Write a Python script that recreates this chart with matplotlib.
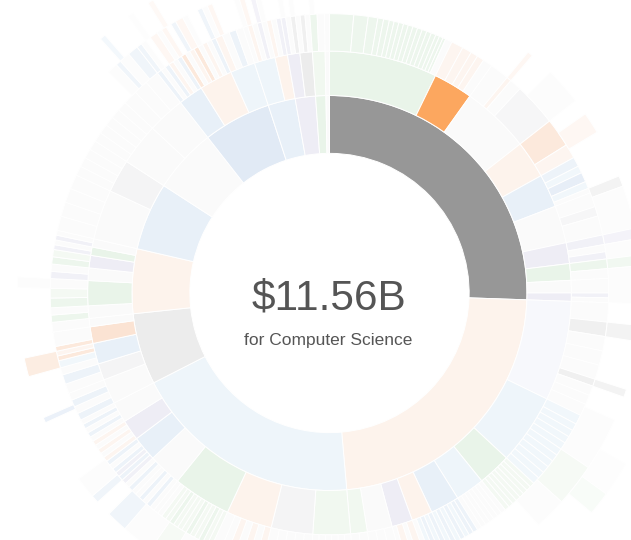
import matplotlib
matplotlib.use("Agg")
import matplotlib.pyplot as plt
from matplotlib.patches import Wedge
from matplotlib.colors import to_rgb

W, H = 631, 540
CX, CY = 329.5, 293.0
R2_STEP = 19500.0  # sqrt radial scale: each ring adds the same r^2

total_label = "$11.56B"
field_label = "for Computer Science"

# faded palette (hover state: everything off-path is washed out)
shade = {
    'H': '#979797', 'X': '#fca75f',
    'b': '#e8f0f8', 'B': '#e1eaf5', 'c': '#eef5fa', 'v': '#f7f8fc',
    'o': '#fdf3ec', 'O': '#fbe3d3', 'g': '#e9f4e9', 'G': '#f1f8f0',
    'p': '#eeedf5', 'k': '#ececec', 'l': '#f4f4f5', 'w': '#fafafa',
}
# outer rings fade a bit more towards white
level_fade = {1: 1.0, 2: 1.0, 3: 0.8, 4: 0.65, 5: 0.5}

# level 1 ($B)
l1_values = [11.56, 10.43, 8.54, 2.64, 2.39, 2.51, 2.39, 2.51, 1.01, 0.75,
             0.38, 0.13]
l1_codes = ['H', 'o', 'c', 'k', 'o', 'b', 'w', 'B', 'b', 'p', 'g', 'w']

# level 2: relative shares inside each level-1 field
l2_parts = [
    [(26, 'g'), (9.5, 'X'), (16.5, 'w'), (9, 'o'), (8, 'b'), (9, 'w'),
     (5, 'p'), (4, 'g'), (3, 'w'), (2, 'p')],
    [(24, 'v'), (17, 'c'), (8, 'g'), (7, 'c'), (7, 'b'), (5, 'o'), (5, 'p'),
     (6, 'w'), (4, 'G')],
    [(9, 'G'), (10, 'l'), (11, 'o'), (14, 'g'), (8, 'w'), (6, 'b'), (5, 'p'),
     (5, 'w')],
    [(6, 'w'), (4, 'l'), (5, 'b'), (4, 'O'), (2, 'w')],
    [(3, 'w'), (6, 'g'), (3, 'w'), (3, 'p'), (2, 'g'), (2, 'w')],
    [(12, 'w'), (8, 'l')],
    [(10, 'w'), (9, 'w')],
    [(6, 'b'), (8, 'o'), (6, 'c')],
    [(5, 'c'), (3, 'o')],
    [(3, 'p'), (3, 'k')],
    [(3, 'G')],
    [(1, 'w')],
]

# level 3: shares inside each level-2 node
l3_parts = [
    [[(5, 'g'), (3, 'g'), (2, 'g'), (1.2, 'g'), (1.2, 'g'), (1, 'g'),
      (1, 'g'), (1, 'g'), (1, 'g'), (1, 'g'), (1, 'g'), (1, 'g'), (1, 'g'),
      (1, 'g'), (1, 'g'), (0.8, 'g'), (0.8, 'g'), (0.6, 'g'), (1.4, 'w')],
     [(2.5, 'o'), (2, 'o'), (1.5, 'o'), (1.5, 'o'), (2, 'w')],
     [(4, 'w'), (1, 'o'), (2.5, 'w'), (9, 'l')],
     [(6, 'O'), (3, 'o')],
     [(2, 'b'), (1.5, 'c'), (2, 'B'), (1.5, 'c'), (1, 'w')],
     [(3, 'w'), (2, 'l'), (4, 'w')],
     [(2, 'p'), (1.5, 'w'), (1.5, 'p')],
     [(2, 'g'), (2, 'w')],
     [(3, 'w')],
     [(1, 'p'), (1, 'w')]],
    [[(4, 'w'), (3, 'k'), (3, 'w'), (3, 'w'), (3, 'w'), (1.5, 'k'), (2, 'w'),
      (2, 'w'), (2.5, 'w')],
     [(2, 'c'), (1.5, 'c'), (1.5, 'c'), (1.5, 'c'), (1.5, 'c'), (1.5, 'c'),
      (1.5, 'c'), (1.5, 'c'), (1.5, 'c'), (1.5, 'c'), (1.5, 'c')],
     [(1, 'G'), (1, 'G'), (1, 'G'), (1, 'G'), (1, 'G'), (1, 'G'), (1, 'G'),
      (1, 'G')],
     [(1, 'w'), (1, 'w'), (1, 'w'), (1, 'w'), (1, 'w'), (1, 'w'), (1, 'w')],
     [(1, 'b'), (1, 'b'), (1, 'c'), (1, 'b'), (1, 'c'), (1, 'b'), (1, 'c')],
     [(1, 'b'), (1, 'c'), (1, 'b'), (1, 'c'), (1, 'w')],
     [(1.5, 'o'), (1, 'w'), (1.5, 'o'), (1, 'w')],
     [(2, 'w'), (2, 'w'), (2, 'w')],
     [(2, 'w'), (2, 'w')]],
    [[(1.5, 'w'), (1.5, 'w'), (1.5, 'w'), (1.5, 'w'), (1.5, 'w'), (1.5, 'w')],
     [(2, 'w'), (2, 'w'), (2, 'w'), (2, 'w'), (2, 'w')],
     [(1.5, 'o'), (1.5, 'w'), (1.5, 'o'), (1.5, 'w'), (1.5, 'o'), (1.5, 'w'),
      (2, 'w')],
     [(1, 'G'), (1, 'G'), (1, 'g'), (1, 'G'), (1, 'G'), (1, 'g'), (1, 'G'),
      (1, 'G'), (1, 'G'), (1, 'g'), (1, 'G'), (1, 'G'), (1, 'w'), (1, 'w')],
     [(1, 'w'), (1, 'b'), (1, 'w'), (1, 'b'), (1, 'w'), (1, 'w'), (1, 'b'),
      (1, 'w')],
     [(1, 'p'), (1, 'b'), (1, 'p'), (1, 'b'), (1, 'w'), (1, 'b')],
     [(1, 'o'), (1, 'w'), (1, 'o'), (1, 'w'), (1, 'o')],
     [(1, 'w'), (1, 'b'), (1, 'w'), (1, 'b'), (1, 'w')]],
    [[(1.5, 'b'), (1.5, 'w'), (1.5, 'b'), (1.5, 'w')],
     [(2, 'w'), (2, 'b')],
     [(1.5, 'w'), (1.5, 'c'), (1, 'O'), (1, 'o')],
     [(1, 'O'), (3, 'w')],
     [(2, 'w')]],
    [[(1.5, 'g'), (1.5, 'w')],
     [(2, 'g'), (2, 'G'), (2, 'w')],
     [(1.5, 'p'), (1.5, 'w')],
     [(1.5, 'g'), (1.5, 'G')],
     [(1, 'p'), (1, 'w')],
     [(1, 'p'), (1, 'w')]],
    [[(3, 'w'), (3, 'w'), (3, 'w'), (3, 'w')],
     [(2, 'w'), (2, 'w'), (2, 'w'), (2, 'w')]],
    [[(2, 'w'), (2, 'w'), (2, 'w'), (2, 'w'), (2, 'w')],
     [(3, 'w'), (3, 'w'), (3, 'w')]],
    [[(1, 'b'), (1, 'w'), (1, 'b'), (1, 'o'), (1, 'w'), (1, 'b')],
     [(1, 'O'), (1, 'w'), (1, 'o'), (1, 'O'), (1, 'w'), (1, 'o'), (1, 'w'),
      (1, 'b')],
     [(1.5, 'o'), (1.5, 'w'), (1.5, 'b'), (1.5, 'w')]],
    [[(1, 'w'), (1, 'o'), (1, 'w'), (1, 'p'), (1, 'w')],
     [(1, 'o'), (1, 'w'), (1, 'p')]],
    [[(1, 'p'), (1, 'w'), (1, 'k')],
     [(1, 'w'), (1, 'k'), (1, 'w')]],
    [[(1.5, 'g'), (1.5, 'w')]],
    [[(1, 'w')]],
]

# levels 4 and 5: sparse outer rays, shares across each level-1 field
# ('n' = nothing drawn there)
l4_parts = [
    [(39.5, 'n'), (1, 'o'), (4.5, 'n'), (7, 'w'), (3, 'n'), (4, 'o'),
     (9, 'n'), (2, 'k'), (8, 'w'), (2, 'p'), (3, 'w'), (2, 'g'), (7, 'w')],
    [(4, 'n'), (3, 'k'), (9, 'n'), (1.5, 'k'), (4.5, 'n'), (10, 'w'),
     (8, 'G'), (6, 'w'), (37, 'n')],
    [(30, 'n'), (6, 'w'), (4, 'G'), (6, 'w'), (4, 'b'), (3, 'n'),
     (1.5, 'b'), (4, 'w'), (9.5, 'n')],
    [(2.5, 'n'), (1, 'B'), (8, 'n'), (3.5, 'O'), (6, 'n')],
    [(7, 'n'), (2, 'w'), (10, 'n')],
    [(20, 'n')],
    [(12, 'n'), (2, 'w'), (1, 'b'), (2, 'w'), (2, 'b')],
    [(1, 'b'), (1, 'w'), (1, 'n'), (1.5, 'o'), (1, 'w'), (1, 'o'), (1, 'n'),
     (1, 'b'), (1.5, 'o'), (1, 'w'), (2, 'n'), (1, 'b'), (1, 'w'), (1, 'o'),
     (4, 'n')],
    [(1, 'w'), (1, 'o'), (1, 'n'), (1, 'p'), (1, 'w'), (3, 'n')],
    [(1, 'w'), (1, 'n'), (1, 'w'), (3, 'n')],
    [(1, 'w'), (2, 'n')],
    [(1, 'n')],
]
l5_parts = [
    [(1, 'n')],
    [(28, 'n'), (6, 'w'), (4, 'G'), (45, 'n')],
    [(1, 'n')], [(1, 'n')], [(1, 'n')], [(1, 'n')],
    [(15, 'n'), (1, 'b'), (3, 'n')],
    [(2, 'n'), (1, 'w'), (3, 'n'), (1, 'o'), (13, 'n')],
    [(1, 'n')], [(1, 'n')], [(1, 'n')], [(1, 'n')],
]


def ring_r(k):
    return (R2_STEP * k) ** 0.5


def faded(code, level):
    rgb = to_rgb(shade[code])
    if code in 'HX':
        return rgb
    f = level_fade[level]
    return tuple(1 - f * (1 - c) for c in rgb)


def arc(ax, a0, a1, level, code):
    if code == 'n' or a1 <= a0:
        return
    r_in, r_out = ring_r(level), ring_r(level + 1)
    # angles are clockwise from north; y axis is flipped so subtract 90
    ax.add_patch(Wedge((CX, CY), r_out, a0 - 90, a1 - 90,
                       width=r_out - r_in, facecolor=faded(code, level),
                       edgecolor='white', linewidth=0.7))


def split(a0, a1, parts):
    tot = sum(p[0] for p in parts)
    out = []
    a = a0
    for val, code in parts:
        b = a + (a1 - a0) * val / tot
        out.append((a, b, code))
        a = b
    return out


fig = plt.figure(figsize=(W / 100, H / 100), dpi=100)
ax = fig.add_axes([0, 0, 1, 1])
ax.set_xlim(0, W)
ax.set_ylim(H, 0)
ax.axis('off')

total = sum(l1_values)
a = 0.0
for i, (v, code) in enumerate(zip(l1_values, l1_codes)):
    b = a + 360.0 * v / total
    arc(ax, a, b, 1, code)
    for (c0, c1, c2), kids in zip(split(a, b, l2_parts[i]), l3_parts[i]):
        arc(ax, c0, c1, 2, c2)
        for d0, d1, d2 in split(c0, c1, kids):
            arc(ax, d0, d1, 3, d2)
    for e0, e1, e2 in split(a, b, l4_parts[i]):
        arc(ax, e0, e1, 4, e2)
    for e0, e1, e2 in split(a, b, l5_parts[i]):
        arc(ax, e0, e1, 5, e2)
    a = b

ax.text(CX - 1, 310, total_label, ha='center', va='baseline', fontsize=30.5,
        color='#555555', family='Liberation Sans')
ax.text(CX - 1, 345, field_label, ha='center', va='baseline', fontsize=12.5,
        color='#555555', family='Liberation Sans')

fig.savefig('out.png', dpi=100, facecolor='white')
